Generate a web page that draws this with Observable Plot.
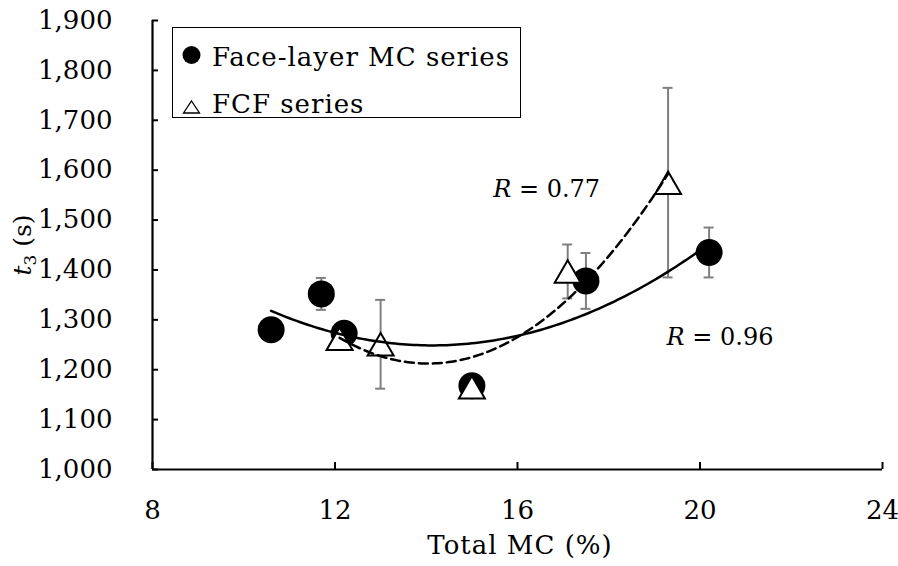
<!DOCTYPE html>
<html><head><meta charset="utf-8">
<script src="https://cdn.jsdelivr.net/npm/d3@7"></script>
<script src="https://cdn.jsdelivr.net/npm/@observablehq/plot@0.6"></script>
<style>
body{margin:0;background:#fff;}
#wrap{position:relative;width:898px;height:566px;font-family:"DejaVu Serif",serif;color:#000;}
#legend{position:absolute;left:172px;top:27px;width:347px;height:89px;border:1.5px solid #000;background:#fff;font-size:26px;letter-spacing:1px;}
#legend .row{position:absolute;left:0;height:30px;line-height:30px;white-space:nowrap;}
#legend .sym{position:absolute;top:0;left:0;}
#legend .lab{position:absolute;left:39px;top:0;}
</style></head><body>
<div id="wrap"><div id="chart"></div><div id="legend"></div></div>
<script>
// ---- data ----
const seriesNames = ["Face-layer MC series", "FCF series"];
const faceMC  = [10.6, 11.7, 12.2, 15.0, 17.5, 20.2];
const faceT3  = [1280, 1352, 1273, 1168, 1378, 1435];
const faceErr = [18, 32, 15, 10, 56, 50];
const fcfMC   = [12.1, 13.0, 15.0, 17.1, 19.3];
const fcfT3   = [1262, 1251, 1165, 1397, 1575];
const fcfErr  = [12, 89, 8, 54, 190];
const xTicks = [8, 12, 16, 20, 24];
const yTicks = [1000, 1100, 1200, 1300, 1400, 1500, 1600, 1700, 1800, 1900];
const xTitle = "Total MC (%)";
const rLabels = ["0.77", "0.96"];
const rLabelX = [16.65, 20.45];
const rLabelY = [1563, 1265];

const face = faceMC.map((x, i) => ({x, y: faceT3[i], e: faceErr[i]}));
const fcf = fcfMC.map((x, i) => ({x, y: fcfT3[i], e: fcfErr[i]}));

// second-order polynomial least-squares trendline (as in the original)
function polyfit2(xs, ys) {
  const S = k => d3.sum(xs, x => x ** k);
  const T = k => d3.sum(xs, (x, i) => x ** k * ys[i]);
  const A = [[S(0), S(1), S(2)], [S(1), S(2), S(3)], [S(2), S(3), S(4)]];
  const b = [T(0), T(1), T(2)];
  const n = 3;
  for (let i = 0; i < n; i++) {
    let p = i;
    for (let r = i + 1; r < n; r++) if (Math.abs(A[r][i]) > Math.abs(A[p][i])) p = r;
    [A[i], A[p]] = [A[p], A[i]]; [b[i], b[p]] = [b[p], b[i]];
    for (let r = i + 1; r < n; r++) {
      const f = A[r][i] / A[i][i];
      for (let c = i; c < n; c++) A[r][c] -= f * A[i][c];
      b[r] -= f * b[i];
    }
  }
  const co = [0, 0, 0];
  for (let i = n - 1; i >= 0; i--) {
    let s = b[i];
    for (let c = i + 1; c < n; c++) s -= A[i][c] * co[c];
    co[i] = s / A[i][i];
  }
  return co;
}
function trend(xs, ys) {
  const [a, b, c] = polyfit2(xs, ys);
  const [x0, x1] = d3.extent(xs);
  const n = 120;
  return d3.range(n + 1).map(i => { const x = x0 + (x1 - x0) * i / n; return {x, y: a + b * x + c * x * x}; });
}
const faceTrend = trend(faceMC, faceT3);
const fcfTrend = trend(fcfMC, fcfT3);

// triangle centred on its bounding box (like the original marker)
const triangle = {draw(ctx, size) {
  const w = 2 * Math.sqrt(size / Math.PI), h = w * Math.sqrt(3) / 2;
  ctx.moveTo(0, -h / 2); ctx.lineTo(w / 2, h / 2); ctx.lineTo(-w / 2, h / 2); ctx.closePath();
}};

const errStyle = {stroke: "#7f7f7f", strokeWidth: 2};
const plot = Plot.plot({
  width: 898, height: 566,
  marginLeft: 152, marginRight: 16, marginTop: 20, marginBottom: 97,
  style: {fontFamily: "DejaVu Serif, serif", fontSize: "26px", background: "#fff", color: "#000"},
  x: {domain: [8, 24]},
  y: {domain: [1000, 1900]},
  marks: [
    Plot.ruleY(yTicks, {y: d => d, x1: () => 8, x2: () => 8, insetRight: -6, stroke: "#000", strokeWidth: 2}),
    Plot.ruleX(xTicks, {x: d => d, y1: () => 1000, y2: () => 1000, insetTop: -7, stroke: "#000", strokeWidth: 2}),
    Plot.ruleX([8], {stroke: "#000", strokeWidth: 2.2}),
    Plot.ruleY([1000], {stroke: "#000", strokeWidth: 2.2}),
    Plot.axisX(xTicks, {tickSize: 0, tickPadding: 31, label: null}),
    Plot.axisY(yTicks, {tickSize: 0, tickPadding: 40, label: null, tickFormat: d3.format(",")}),
    // error bars
    Plot.ruleX(face, {x: "x", y1: d => d.y - d.e, y2: d => d.y + d.e, ...errStyle}),
    Plot.ruleY(face.flatMap(d => [{x: d.x, y: d.y - d.e}, {x: d.x, y: d.y + d.e}]), {x1: "x", x2: "x", y: "y", insetLeft: -5, insetRight: -5, ...errStyle}),
    Plot.ruleX(fcf, {x: "x", y1: d => d.y - d.e, y2: d => d.y + d.e, ...errStyle}),
    Plot.ruleY(fcf.flatMap(d => [{x: d.x, y: d.y - d.e}, {x: d.x, y: d.y + d.e}]), {x1: "x", x2: "x", y: "y", insetLeft: -5, insetRight: -5, ...errStyle}),
    // markers
    Plot.dot(face, {x: "x", y: "y", r: 13.5, fill: "#000", stroke: "none"}),
    Plot.dot(fcf, {x: "x", y: "y", r: 13, symbol: triangle, fill: "#fff", stroke: "#000", strokeWidth: 2}),
    // trendlines
    Plot.line(faceTrend, {x: "x", y: "y", stroke: "#000", strokeWidth: 2.5}),
    Plot.line(fcfTrend, {x: "x", y: "y", stroke: "#000", strokeWidth: 2.5, strokeDasharray: "9,5"})
  ]
});
document.getElementById("chart").append(plot);

// rich-text labels
const svg = d3.select(plot);
const sx = plot.scale("x"), sy = plot.scale("y");
rLabels.forEach((v, i) => {
  const t = svg.append("text")
    .attr("x", sx.apply(rLabelX[i])).attr("y", sy.apply(rLabelY[i]))
    .attr("text-anchor", "middle").attr("dy", "0.35em")
    .attr("font-size", 24).attr("fill", "#000");
  t.append("tspan").attr("font-style", "italic").text("R");
  t.append("tspan").text(" = " + v);
});
svg.append("text")
  .attr("x", (sx.apply(xTicks[0]) + sx.apply(xTicks[xTicks.length - 1])) / 2 + 3)
  .attr("y", 554).attr("text-anchor", "middle")
  .attr("font-size", 26).attr("letter-spacing", "1px").attr("fill", "#000")
  .text(xTitle);
const yl = svg.append("text")
  .attr("transform", "translate(31,245) rotate(-90)")
  .attr("text-anchor", "middle").attr("font-size", 25).attr("fill", "#000");
yl.append("tspan").attr("font-style", "italic").text("t");
yl.append("tspan").attr("font-size", 17).attr("dy", 5).text("3");
yl.append("tspan").attr("dy", -5).text(" (s)");

// legend
const legend = d3.select("#legend");
const r1 = legend.append("div").attr("class", "row").style("top", "13.5px");
r1.append("svg").attr("class", "sym").attr("width", 34).attr("height", 30)
  .append("circle").attr("cx", 18.5).attr("cy", 13).attr("r", 9).attr("fill", "#000");
r1.append("span").attr("class", "lab").text(seriesNames[0]);
const r2 = legend.append("div").attr("class", "row").style("top", "60.5px");
r2.append("svg").attr("class", "sym").attr("width", 34).attr("height", 30)
  .append("path").attr("d", "M18.5,12 L26.5,24 L10.5,24 Z").attr("fill", "#fff").attr("stroke", "#000").attr("stroke-width", 1.3);
r2.append("span").attr("class", "lab").text(seriesNames[1]);
</script>
</body></html>
